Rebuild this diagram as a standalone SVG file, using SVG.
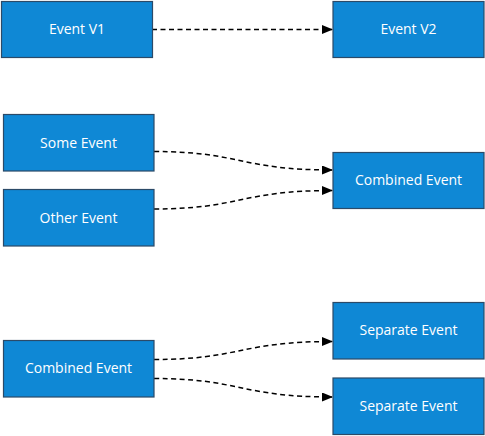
<svg xmlns="http://www.w3.org/2000/svg" width="485" height="436" viewBox="0 0 485 436">
  <style>
    .box { fill: #0f88d5; stroke: #2b4a68; stroke-width: 1.2; }
    .lbl { fill: #ffffff; font-family: "Open Sans", "Noto Sans", sans-serif; font-size: 14px; text-anchor: middle; dominant-baseline: central; }
    .link { fill: none; stroke: #000000; stroke-width: 1.5; stroke-dasharray: 5 3.5; marker-end: url(#arrow); }
  </style>
  <defs>
    <marker id="arrow" markerWidth="11" markerHeight="9" refX="10" refY="4.5" orient="auto" markerUnits="userSpaceOnUse">
      <path d="M0,0 L11,4.5 L0,9 Z" fill="#000000"/>
    </marker>
  </defs>
  <rect width="485" height="436" fill="#ffffff"/>

  <g id="connectors">
    <path class="link" d="M152,29.5 L332,29.5"/>
    <path class="link" d="M154,151.5 C240,151.5 240,170 332,170"/>
    <path class="link" d="M154,209 C240,209 240,190.5 332,190.5"/>
    <path class="link" d="M154,359.5 C240,359.5 240,341.5 332,341.5"/>
    <path class="link" d="M154,378.5 C240,378.5 240,397 332,397"/>
  </g>

  <g id="event-v1">
    <rect class="box" x="1.5" y="1.5" width="151" height="56"/>
    <text class="lbl" x="77" y="28.5">Event V1</text>
  </g>
  <g id="event-v2">
    <rect class="box" x="333" y="1.5" width="151" height="56"/>
    <text class="lbl" x="408.5" y="28.5">Event V2</text>
  </g>

  <g id="some-event">
    <rect class="box" x="3.5" y="114.5" width="150.5" height="56.5"/>
    <text class="lbl" x="78.5" y="142">Some Event</text>
  </g>
  <g id="other-event">
    <rect class="box" x="3.5" y="189.5" width="150.5" height="56.5"/>
    <text class="lbl" x="78.5" y="217">Other Event</text>
  </g>
  <g id="combined-event-in">
    <rect class="box" x="333" y="152.5" width="151" height="56"/>
    <text class="lbl" x="408.5" y="179.5">Combined Event</text>
  </g>

  <g id="combined-event-out">
    <rect class="box" x="3.5" y="340.5" width="150.5" height="56.5"/>
    <text class="lbl" x="78.5" y="367.5">Combined Event</text>
  </g>
  <g id="separate-event-1">
    <rect class="box" x="333" y="302.5" width="151" height="56.5"/>
    <text class="lbl" x="408.5" y="329.5">Separate Event</text>
  </g>
  <g id="separate-event-2">
    <rect class="box" x="333" y="378" width="151" height="56.5"/>
    <text class="lbl" x="408.5" y="405">Separate Event</text>
  </g>
</svg>
